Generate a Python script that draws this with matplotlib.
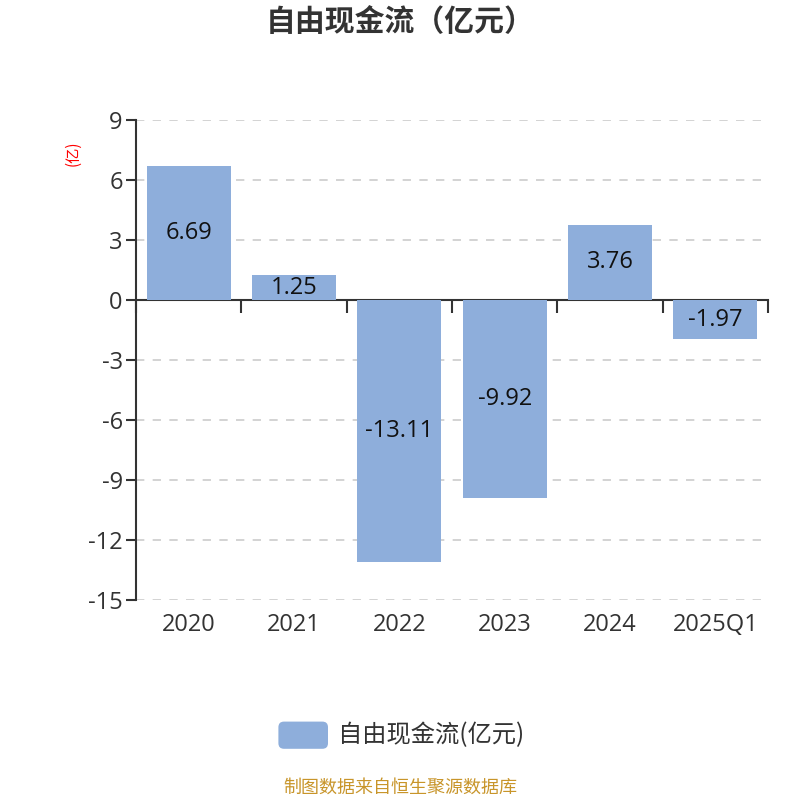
import matplotlib.pyplot as plt
import numpy as np
from matplotlib.patches import FancyBboxPatch

plt.rcParams["font.family"] = ["Open Sans", "Noto Sans CJK SC", "DejaVu Sans"]

# 数据
categories = ["2020", "2021", "2022", "2023", "2024", "2025Q1"]
values = [6.69, 1.25, -13.11, -9.92, 3.76, -1.97]
y_ticks = [9, 6, 3, 0, -3, -6, -9, -12, -15]

bar_color = "#8eaedb"
text_color = "#333333"
cjk = ["Noto Sans CJK SC", "DejaVu Sans"]

fig = plt.figure(figsize=(8, 8), dpi=100)
ax = fig.add_axes([0.17, 0.25, 0.79, 0.60])

x = np.arange(len(categories))
bars = ax.bar(x, values, width=0.8, color=bar_color, zorder=3)

# 数据标签（柱子中部）
for bar, v in zip(bars, values):
    ax.text(bar.get_x() + bar.get_width() / 2, v / 2, f"{v:.2f}",
            ha="center", va="center", fontsize=17, color="#111111", zorder=4)

ax.set_xlim(-0.5, len(categories) - 0.5)
ax.set_ylim(-15, 9)
ax.set_yticks(y_ticks)
ax.set_yticklabels([str(t) for t in y_ticks], fontsize=17, color=text_color)
ax.tick_params(axis="y", length=7.5, width=1.5, color=text_color, pad=2)

# x 轴放在 0 处，刻度在类别边界
ax.spines["bottom"].set_position(("data", 0))
ax.spines["bottom"].set_color(text_color)
ax.spines["bottom"].set_linewidth(1.5)
ax.spines["left"].set_color(text_color)
ax.spines["left"].set_linewidth(1.5)
ax.spines["top"].set_visible(False)
ax.spines["right"].set_visible(False)
ax.set_xticks(np.arange(len(categories) + 1) - 0.5)
ax.set_xticklabels([])
ax.tick_params(axis="x", length=9, width=1.5, color=text_color, direction="out")

# 类别标签放在图底部
for xi, c in zip(x, categories):
    ax.text(xi, -0.028, c, transform=ax.get_xaxis_transform(),
            ha="center", va="top", fontsize=17, color=text_color)

# 网格线
ax.grid(axis="y", linestyle=(0, (5, 5)), color="#cccccc", linewidth=1.2, zorder=0)

# y 轴单位
ax.text(-0.1, 0.93, "(亿)", transform=ax.transAxes, rotation=90,
        ha="center", va="center", fontsize=11, color="red", family=cjk)

# 标题
fig.text(0.5, 0.972, "自由现金流（亿元）", ha="center", va="center",
         fontsize=21.5, fontweight="bold", color=text_color, family=cjk)

# 图例
patch = FancyBboxPatch((0.348, 0.064), 0.062, 0.034, boxstyle="round,pad=0,rounding_size=0.007",
                       transform=fig.transFigure, facecolor=bar_color, edgecolor="none")
fig.patches.append(patch)
fig.text(0.422, 0.0815, "自由现金流(亿元)", ha="left", va="center",
         fontsize=17.5, color=text_color, family=cjk)

# 数据来源
fig.text(0.5, 0.015, "制图数据来自恒生聚源数据库", ha="center", va="center",
         fontsize=13, color="#c8952a", family=cjk)

fig.savefig("out.png", dpi=100)
